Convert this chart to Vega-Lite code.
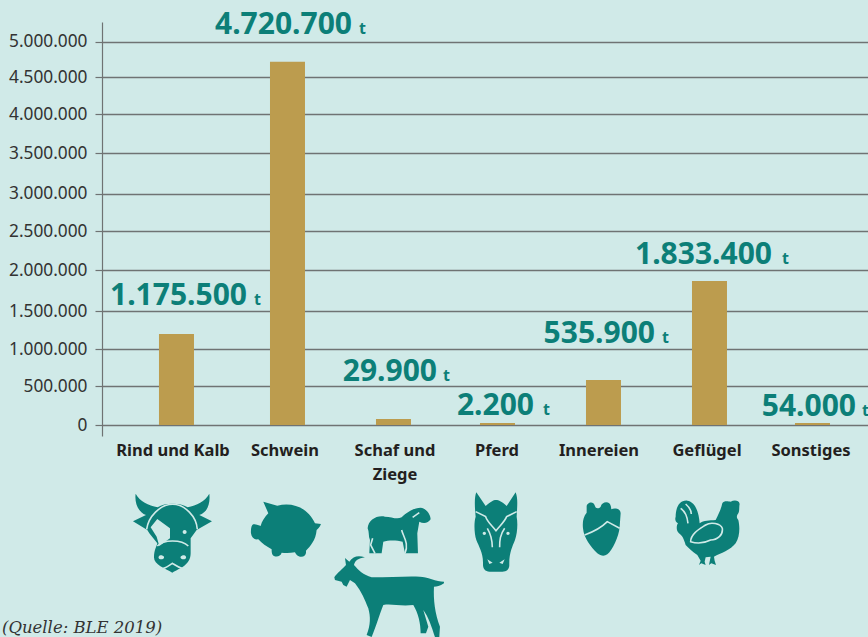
{
"$schema":"https://vega.github.io/schema/vega-lite/v6.json",
"width":766,"height":414,
"autosize":{"type":"none"},
"padding":{"left":102,"top":22,"right":0,"bottom":201},
"background":"#d0eae8",
"config":{"view":{"stroke":null},"font":"Noto Sans"},
"datasets":{
"werte":[
{"art":"Rind und Kalb","saeule":1200000,"menge":"1.175.500"},
{"art":"Schwein","saeule":4720000,"menge":"4.720.700"},
{"art":"Schaf und Ziege","saeule":78000,"menge":"29.900"},
{"art":"Pferd","saeule":26000,"menge":"2.200"},
{"art":"Innereien","saeule":585000,"menge":"535.900"},
{"art":"Geflügel","saeule":1866000,"menge":"1.833.400"},
{"art":"Sonstiges","saeule":26000,"menge":"54.000"}
],
"symbole":[
{"art":"Rind und Kalb","icon":"Rind"},
{"art":"Schwein","icon":"Schwein"},
{"art":"Schaf und Ziege","icon":"Schaf"},
{"art":"Schaf und Ziege","icon":"Ziege"},
{"art":"Pferd","icon":"Pferd"},
{"art":"Innereien","icon":"Herz"},
{"art":"Geflügel","icon":"Huhn"}
],
"quelle":[{"art":"Rind und Kalb","text":"(Quelle: BLE 2019)"}]
},
"encoding":{
"x":{"field":"art","type":"nominal","sort":null,
"scale":{"domain":["Rind und Kalb","Schwein","Schaf und Ziege","Pferd","Innereien","Geflügel","Sonstiges"],"paddingInner":0.669,"paddingOuter":0.4545,"align":0.634},
"axis":{"title":null,"ticks":false,"domain":false,"grid":false,"labels":false}}
},
"layer":[
{"data":{"name":"werte"},
"mark":{"type":"bar","color":"#bc9c4e","size":35,"xOffset":{"expr":"({'Rind und Kalb':-4,'Schwein':1.2,'Schaf und Ziege':1.4,'Pferd':-0.4,'Innereien':-0.2,'Geflügel':0,'Sonstiges':-2.8})[datum.art]"}},
"encoding":{"y":{"field":"saeule","type":"quantitative",
"scale":{"domain":[-143400,0,500000,1000000,1500000,2000000,2500000,3000000,3500000,4000000,4500000,5000000,5254000],"range":[414,403,364.3,327.3,289,248,209,171.7,131,92.3,55.3,19.7,0]},
"axis":{"title":null,"values":[0,500000,1000000,1500000,2000000,2500000,3000000,3500000,4000000,4500000,5000000],"grid":true,"gridColor":"#6f7373","gridWidth":1.3,"domainColor":"#6f7373","domainWidth":1.2,"tickColor":"#6f7373","tickSize":7,"tickWidth":1.2,"labelPadding":8,"labelFontSize":17.3,"labelColor":"#333333","labelFont":"Noto Sans",
"labelExpr":"replace(format(datum.value,','),/,/g,'.')"}}}},
{"data":{"name":"werte"},
"mark":{"type":"text","align":"center","baseline":"alphabetic","fontSize":16.5,"fontWeight":"bold","color":"#231f20","font":"Noto Sans","lineHeight":24.5,
"text":{"expr":"datum.art=='Schaf und Ziege'?['Schaf und','Ziege']:datum.art"},
"xOffset":{"expr":"({'Rind und Kalb':-7.5,'Schwein':-1.3,'Schaf und Ziege':2.9,'Pferd':-1,'Innereien':-4.7,'Geflügel':-2.5,'Sonstiges':-4.3})[datum.art]"},
"yOffset":30.6},
"encoding":{"y":{"datum":0}}},
{"data":{"name":"werte"},
"mark":{"type":"text","align":"right","baseline":"alphabetic","fontSize":30,"fontWeight":"bold","color":"#0c7f78","font":"Noto Sans",
"xOffset":{"expr":"({'Rind und Kalb':66.5,'Schwein':65.7,'Schaf und Ziege':44.9,'Pferd':36.1,'Innereien':51.3,'Geflügel':62.5,'Sonstiges':40.7})[datum.art]"},
"yOffset":{"expr":"({'Rind und Kalb':-120,'Schwein':-391,'Schaf und Ziege':-44,'Pferd':-10,'Innereien':-82,'Geflügel':-161,'Sonstiges':-9})[datum.art]"}},
"encoding":{"text":{"field":"menge"},"y":{"datum":0}}},
{"data":{"name":"werte"},
"mark":{"type":"text","align":"left","baseline":"alphabetic","fontSize":16,"fontWeight":"bold","color":"#0c7f78","font":"Noto Sans","text":"t",
"xOffset":{"expr":"({'Rind und Kalb':73.5,'Schwein':72.7,'Schaf und Ziege':50.9,'Pferd':45.1,'Innereien':58.3,'Geflügel':72.5,'Sonstiges':46.7})[datum.art]"},
"yOffset":{"expr":"({'Rind und Kalb':-120,'Schwein':-391,'Schaf und Ziege':-44,'Pferd':-10,'Innereien':-82,'Geflügel':-161,'Sonstiges':-9})[datum.art]"}},
"encoding":{"y":{"datum":0}}},
{"data":{"name":"symbole"},
"mark":{"type":"point","filled":true,"size":0.4444,"color":"#0c7f78","opacity":1,
"xOffset":{"expr":"({'Rind und Kalb':-180.5,'Schwein':-286.3,'Schaf und Ziege':-392.1,'Pferd':-63.9,'Innereien':-169.7,'Geflügel':-275.5})[datum.art]"},"yOffset":-105},
"encoding":{"y":{"datum":0},"shape":{"field":"icon","type":"nominal","legend":null,"scale":{"domain":["Rind","Schwein","Schaf","Ziege","Pferd","Herz","Huhn"],"range":[
"M407 521C420 545 445 555 473 562C495 548 540 548 563 562C590 555 615 545 628 521C632 555 620 578 598 585L636 604L590 630L572 655L572 700C572 735 540 745 517 758C495 745 462 735 462 712C462 690 470 680 472 670L448 640L442 630L399 604L438 585C416 578 403 550 407 521Z",
"M790 545L832 557C880 545 925 565 945 610L963 612C960 622 952 628 950 630C948 660 930 680 918 692C920 705 912 712 900 710C890 708 887 700 885 697C870 700 855 700 845 698C842 708 832 712 822 708C815 705 815 695 815 688C800 680 785 670 775 658C765 660 755 655 753 640C752 625 755 615 760 613C768 612 778 617 782 618C785 605 795 590 805 580Z",
"M1103 625C1105 600 1130 585 1155 590C1175 590 1190 600 1205 592C1220 578 1240 563 1262 563C1280 565 1292 585 1292 598C1285 610 1270 612 1258 605L1252 640L1254 700L1215 700L1208 665C1190 660 1165 660 1150 665L1145 700L1108 700L1110 660C1105 650 1108 635 1103 625Z",
"M1003 772C1010 760 1030 745 1038 735L1035 714L1048 725C1060 708 1075 706 1095 712C1075 715 1065 722 1062 735C1075 750 1090 765 1115 772C1170 772 1220 768 1260 770C1280 770 1310 785 1332 785L1332 790C1320 798 1310 800 1302 800C1300 840 1305 880 1320 920L1318 951L1305 951C1295 920 1285 890 1270 870L1285 920L1278 940L1262 940C1262 910 1255 880 1240 855C1200 860 1175 850 1150 855C1140 880 1130 915 1115 951L1100 945C1112 915 1112 890 1105 865C1095 840 1085 815 1065 790L1050 780L1040 800L1030 795L1025 785L1005 780Z",
"M127 517L155 558C170 545 178 540 186 540C194 540 205 545 218 558L245 517C252 535 250 555 248 590C252 610 250 640 243 660C235 680 225 700 226 735C226 748 218 755 205 755L167 755C152 755 146 745 147 730C148 700 135 680 127 660C120 640 120 605 125 590C121 550 122 530 127 517Z",
"M458 560C458 548 478 540 483 558C485 567 495 566 500 560C503 545 528 540 531 560L532 568C540 563 560 565 560 580L557 620C555 650 535 690 520 703C510 710 500 707 490 700C470 680 450 655 447 625C445 605 448 590 458 578Z",
"M725 590C725 565 735 540 760 542C785 545 795 580 797 610C810 600 825 602 845 600C855 580 862 565 865 550C870 540 885 545 890 545C900 540 915 540 917 552C915 560 917 575 913 580C910 585 905 590 913 600C918 620 918 650 905 670C890 690 860 700 840 710L842 722L846 735L832 730L825 735L830 710L815 712L812 725L815 735L802 730L795 735L800 722L790 705C775 695 765 685 755 675C750 660 748 650 735 640C725 630 728 615 732 610C725 605 722 600 725 590Z"
]}}}},
{"data":{"name":"symbole"},
"mark":{"type":"point","filled":true,"size":0.4444,"color":"#d0eae8","opacity":1,
"xOffset":{"expr":"({'Rind und Kalb':-180.5,'Schwein':-286.3,'Schaf und Ziege':-392.1,'Pferd':-63.9,'Innereien':-169.7,'Geflügel':-275.5})[datum.art]"},"yOffset":-105},
"encoding":{"y":{"datum":0},"shape":{"field":"icon","type":"nominal","legend":null,"scale":{"domain":["Rind","Schwein","Schaf","Ziege","Pferd","Herz","Huhn"],"range":[
"M472 597L452 622L470 650L478 678L510 655L510 625Z M476 635L482 642L488 635L482 629Z M548 636A6 6 0 1 0 560 636A6 6 0 1 0 548 636Z M476 710A7 5 0 1 0 492 714A7 5 0 1 0 476 710Z M542 714A7 5 0 1 0 558 710A7 5 0 1 0 542 714Z",
"M0 0",
"M0 0",
"M0 0",
"M146 640A5 5 0 1 0 156 640A5 5 0 1 0 146 640Z M217 640A5 5 0 1 0 227 640A5 5 0 1 0 217 640Z M160 718L176 728L166 732Z M212 718L196 728L206 732Z",
"M0 0",
"M0 0"
]}}}},
{"data":{"name":"symbole"},
"mark":{"type":"point","filled":false,"size":0.4444,"color":"#d0eae8","strokeWidth":1.6,"opacity":1,
"xOffset":{"expr":"({'Rind und Kalb':-180.5,'Schwein':-286.3,'Schaf und Ziege':-392.1,'Pferd':-63.9,'Innereien':-169.7,'Geflügel':-275.5})[datum.art]"},"yOffset":-105},
"encoding":{"y":{"datum":0},"shape":{"field":"icon","type":"nominal","legend":null,"scale":{"domain":["Rind","Schwein","Schaf","Ziege","Pferd","Herz","Huhn"],"range":[
"M440 628C445 590 480 553 518 553C555 553 590 590 592 628M472 678C490 658 545 658 565 678M490 745C500 742 510 735 517 730C525 735 535 742 546 745",
"M0 0",
"M1125 700L1112 675L1118 655M1205 630C1210 650 1228 670 1215 700M1238 592L1258 578",
"M0 0",
"M125 575L155 590C160 605 172 615 186 632C200 615 212 605 218 590L248 575M160 625C172 645 175 660 175 682M212 625C198 645 197 660 197 682",
"M452 645C480 635 500 625 520 605L557 625",
"M740 565C755 575 760 590 762 610M755 552C770 565 772 575 772 582M770 665C770 640 800 625 815 615C830 605 860 610 865 625C868 645 850 660 830 660C810 670 790 672 770 665Z"
]}}}},
{"data":{"name":"quelle"},
"mark":{"type":"text","align":"left","baseline":"alphabetic","fontSize":16.5,"fontStyle":"italic","color":"#333333","font":"DejaVu Serif","xOffset":-178.5,"yOffset":208},
"encoding":{"text":{"field":"text"},"y":{"datum":0}}}
],
"resolve":{"scale":{"shape":"independent"}}
}
